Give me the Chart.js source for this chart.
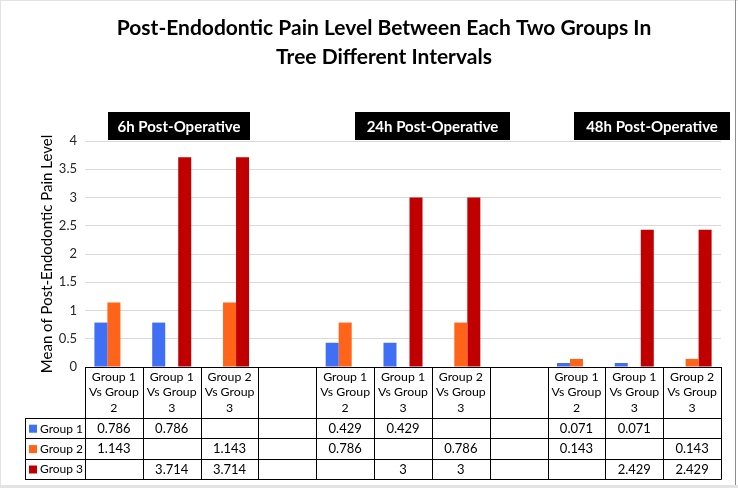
<!DOCTYPE html>
<html>
<head>
<meta charset="utf-8">
<script src="https://cdn.jsdelivr.net/npm/chart.js@4.4.1/dist/chart.umd.min.js"></script>
<style>
  html, body { margin: 0; padding: 0; background: #fff; }
  #chart { display: block; }
</style>
</head>
<body>
<canvas id="chart" width="738" height="488"></canvas>
<script>
const categories = [
  ['Group 1', 'Vs Group', '2'], ['Group 1', 'Vs Group', '3'], ['Group 2', 'Vs Group', '3'], '',
  ['Group 1', 'Vs Group', '2'], ['Group 1', 'Vs Group', '3'], ['Group 2', 'Vs Group', '3'], '',
  ['Group 1', 'Vs Group', '2'], ['Group 1', 'Vs Group', '3'], ['Group 2', 'Vs Group', '3'],
];
const seriesNames = ['Group 1', 'Group 2', 'Group 3'];
const group1Values = [0.786, 0.786, null, null, 0.429, 0.429, null, null, 0.071, 0.071, null];
const group2Values = [1.143, null, 1.143, null, 0.786, null, 0.786, null, 0.143, null, 0.143];
const group3Values = [null, 3.714, 3.714, null, null, 3, 3, null, null, 2.429, 2.429];
const intervalLabels = ['6h Post-Operative', '24h Post-Operative', '48h Post-Operative'];
const titleLines = ['Post-Endodontic Pain Level Between Each Two Groups In', 'Tree Different Intervals'];
const yAxisTitle = 'Mean of Post-Endodontic Pain Level';
const yTicks = { min: 0, max: 4, step: 0.5 };

const seriesColors = ['#3f6ff4', '#ff6419', '#c00000'];
const FONT = 'Lato, "Open Sans", sans-serif';

const allValues = [group1Values, group2Values, group3Values];

// white page + thin grey frame like the exported picture
const backgroundPlugin = {
  id: 'background',
  beforeDraw(chart) {
    const { ctx, width, height } = chart;
    ctx.save();
    ctx.fillStyle = '#fff';
    ctx.fillRect(0, 0, width, height);
    ctx.restore();
  },
  afterDraw(chart) {
    const { ctx, width, height } = chart;
    ctx.save();
    ctx.fillStyle = '#e3e3e3';
    ctx.fillRect(0, 0, width, 1);
    ctx.fillRect(0, 0, 1, height);
    ctx.fillRect(0, height - 3, width, 3);
    ctx.fillStyle = '#8c8c8c';
    ctx.fillRect(735, 0, 1, height - 3);
    ctx.restore();
  },
};

// two-line heading, centred on the picture rather than the plot
const headingPlugin = {
  id: 'heading',
  afterDraw(chart) {
    const { ctx } = chart;
    ctx.save();
    ctx.font = `bold 21px ${FONT}`;
    ctx.fillStyle = '#000';
    ctx.textAlign = 'center';
    ctx.textBaseline = 'middle';
    titleLines.forEach((line, i) => ctx.fillText(line, 384, 28 + i * 29));
    ctx.restore();
  },
};

// black boxes naming each interval
const intervalBoxPlugin = {
  id: 'intervalBoxes',
  afterDraw(chart) {
    const { ctx } = chart;
    const boxes = [[108, 250], [355, 510], [574, 730]];
    ctx.save();
    ctx.font = `bold 15px ${FONT}`;
    ctx.textAlign = 'center';
    ctx.textBaseline = 'middle';
    boxes.forEach(([l, r], i) => {
      ctx.fillStyle = '#000';
      ctx.fillRect(l, 112, r - l, 28);
      ctx.fillStyle = '#fff';
      ctx.fillText(intervalLabels[i], (l + r) / 2, 127);
    });
    ctx.restore();
  },
};

// Excel-style data table under the category axis
const dataTablePlugin = {
  id: 'dataTable',
  afterDraw(chart) {
    const { ctx, chartArea } = chart;
    const x = chart.scales.x;
    const step = x.getPixelForValue(1) - x.getPixelForValue(0);
    const left = x.getPixelForValue(0) - step / 2;
    const right = x.getPixelForValue(categories.length - 1) + step / 2;
    const top = chartArea.bottom;
    const headerBottom = top + 51;
    const rowH = 20.4;
    const tableBottom = headerBottom + rowH * 3;
    const legendLeft = 25;

    ctx.save();
    ctx.strokeStyle = '#000';
    ctx.lineWidth = 1;
    ctx.beginPath();
    const hline = (y, x0) => { ctx.moveTo(x0, Math.round(y) + 0.5); ctx.lineTo(right, Math.round(y) + 0.5); };
    const vline = (xp, y0) => { ctx.moveTo(Math.round(xp) + 0.5, y0); ctx.lineTo(Math.round(xp) + 0.5, tableBottom + 0.5); };
    hline(top, left);
    for (let r = 0; r <= 3; r++) hline(headerBottom + rowH * r, legendLeft);
    for (let i = 0; i <= categories.length; i++) vline(left + step * i, top);
    vline(legendLeft, headerBottom);
    ctx.stroke();

    ctx.textBaseline = 'middle';
    seriesNames.forEach((name, r) => {
      const cy = headerBottom + rowH * r + rowH / 2 + 0.5;
      ctx.fillStyle = seriesColors[r];
      ctx.fillRect(legendLeft + 4, cy - 4, 8, 8);
      ctx.fillStyle = '#000';
      ctx.textAlign = 'left';
      ctx.font = `12px ${FONT}`;
      ctx.fillText(name, legendLeft + 15, cy);
      ctx.textAlign = 'center';
      ctx.font = `13px ${FONT}`;
      allValues[r].forEach((v, i) => {
        if (v === null) return;
        ctx.fillText(String(v), x.getPixelForValue(i), cy);
      });
    });
    ctx.restore();
  },
};

const ctx = document.getElementById('chart');

new Chart(ctx, {
  type: 'bar',
  data: {
    labels: categories,
    datasets: seriesNames.map((name, i) => ({
      label: name,
      data: allValues[i],
      backgroundColor: seriesColors[i],
      borderWidth: 0,
      categoryPercentage: 0.675,
      barPercentage: 1,
    })),
  },
  options: {
    responsive: false,
    animation: false,
    layout: { padding: { left: 30, right: 17, top: 141, bottom: 0 } },
    plugins: {
      legend: { display: false },
      tooltip: { enabled: false },
      title: { display: false },
    },
    scales: {
      x: {
        grid: { display: false },
        border: { display: false },
        ticks: {
          color: '#000',
          font: { family: FONT, size: 12.3, lineHeight: 1.26 },
          padding: -6,
          maxRotation: 0,
          autoSkip: false,
        },
        afterFit: (scale) => { scale.height = 121; },
      },
      y: {
        min: yTicks.min,
        max: yTicks.max,
        grid: { color: '#d9d9d9', drawTicks: false },
        border: { display: false },
        ticks: {
          stepSize: yTicks.step,
          color: '#262626',
          padding: 8,
          font: { family: FONT, size: 13 },
          callback: (value) => String(Math.round(value * 10) / 10),
        },
        title: {
          display: true,
          text: yAxisTitle,
          color: '#000',
          font: { family: FONT, size: 15 },
          padding: { top: 8, bottom: 0 },
        },
        afterFit: (scale) => { scale.width = 55; },
      },
    },
  },
  plugins: [backgroundPlugin, headingPlugin, intervalBoxPlugin, dataTablePlugin],
});
</script>
</body>
</html>
